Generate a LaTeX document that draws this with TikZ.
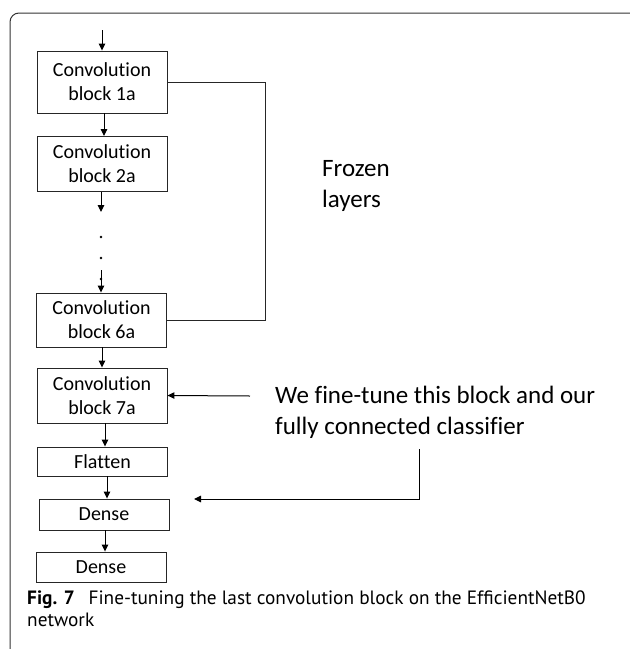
\documentclass[tikz,border=0pt]{standalone}
\usepackage{fontspec}
\setmainfont{Carlito}[Ligatures=NoCommon]
\newfontfamily\capfont{PT Sans}
\usetikzlibrary{arrows.meta,calc}
\begin{document}
\begin{tikzpicture}[x=1pt,y=-1pt,
  blk/.style={draw=black!85,line width=0.9pt,inner sep=0pt,align=center,
     font=\fontsize{20}{24}\selectfont,minimum width=130pt},
  arr/.style={line width=1pt,-{Triangle[length=7pt,width=6.5pt]}},
  ln/.style={line width=1pt,black!85},
  lbl/.style={align=left,anchor=west,inner sep=0pt,font=\fontsize{25}{31.5}\selectfont}]
\useasboundingbox (0,0) rectangle (630,649);
% frame
\draw[line width=1pt,black!80,rounded corners=9pt] (10,649) -- (10,13) -- (630,13);
% blocks
\node[blk,minimum height=62pt] (b1) at (102,82) {Convolution\\block 1a};
\node[blk,minimum height=55pt] (b2) at (102,164) {Convolution\\block 2a};
\node[blk,minimum height=54pt] (b6) at (101.5,320) {Convolution\\block 6a};
\node[blk,minimum height=55pt] (b7) at (102,395.5) {Convolution\\block 7a};
\node[blk,minimum height=29pt] (fl) at (102.5,461.5) {Flatten};
\node[blk,minimum height=31pt] (d1) at (104,514.5) {Dense};
\node[blk,minimum height=30pt] (d2) at (101,567) {Dense};
% arrow start points
\coordinate (in) at (102,30);
\coordinate (a1) at (104,113);
\coordinate (t2) at (101,212);
\coordinate (t6) at (101,270);
\coordinate (a6) at (102,347);
\coordinate (a7) at (105,423);
\coordinate (af) at (107,476);
\coordinate (ad) at (105,530);
% chain arrows
\draw[arr] (in) -- (in |- b1.north);
\draw[arr] (a1) -- (a1 |- b2.north);
\draw[arr] (t2 |- b2.south) -- (t2);
\foreach \yy in {237,258,279} \fill (101,\yy) circle (1.3pt);
\draw[arr] (t6) -- (t6 |- b6.north);
\draw[arr] (a6) -- (a6 |- b7.north);
\draw[arr] (a7) -- (a7 |- fl.north);
\draw[arr] (af) -- (af |- d1.north);
\draw[arr] (ad) -- (ad |- d2.north);
% frozen bracket
\draw[ln] (b1.east) -- (265,82) |- (b6.east);
\node[lbl] (frz) at (322,186) {Frozen\\layers};
% fine-tune annotation
\node[lbl] (ft) at (275,412.5) {We fine-tune this block and our\\fully connected classifier};
\coordinate (s7) at (250,396);
\draw[arr] (s7) -- (b7.east);
\coordinate (sd) at (419,449);
\coordinate (td) at (194,499);
\draw[arr] (sd) |- (td);
% caption
\node[anchor=north west,align=left,inner sep=0pt,
  font=\capfont\fontsize{19.3}{22}\selectfont] (cap) at (27,591)
  {\textbf{Fig. 7}\hspace{0.45em} Fine-tuning the last convolution block on the EfficientNetB0\\network};
\end{tikzpicture}
\end{document}
